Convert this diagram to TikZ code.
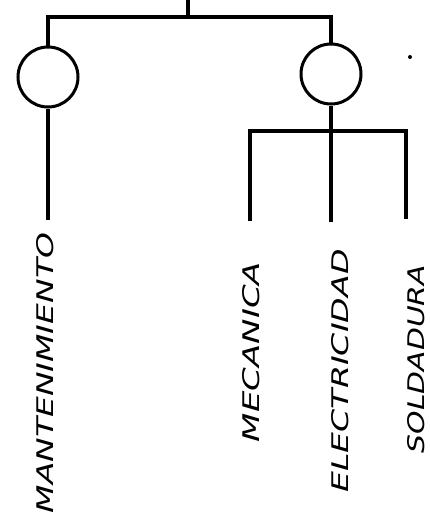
\documentclass[tikz,border=0pt]{standalone}
\usepackage{fontspec}
\setmainfont{DejaVu Sans}
\usepackage{graphicx}
\begin{document}
\begin{tikzpicture}[x=1pt,y=-1pt,
  ln/.style={line width=3.2pt},
  circ/.style={circle,draw,line width=3pt,minimum size=60pt,inner sep=0pt},
  lbl/.style={rotate=90,inner sep=0pt,anchor=center}]
\useasboundingbox (0,0) rectangle (430,514);
\newcommand{\lab}[3]{\resizebox{#1pt}{#2pt}{\itshape #3}}
\coordinate (top) at (188,0);
\coordinate (j1) at (188,17);
\node[circ] (L) at (48,77) {};
\node[circ] (R) at (331,74) {};
\coordinate (eL) at (48,220);
\coordinate (j2) at (331,131);
\coordinate (e1) at (250,221);
\coordinate (e2) at (331,222);
\coordinate (e3) at (406,219);
\draw[ln] (top) -- (j1);
\draw[ln] (j1) -| (L.north);
\draw[ln] (j1) -| (R.north);
\draw[ln] (L.south) -- (eL);
\draw[ln] (R.south) -- (j2);
\draw[ln] (j2) -| (e1);
\draw[ln] (j2) -| (e3);
\draw[ln] (j2) -- (e2);
\fill (410,57) circle (2pt);
\node[lbl] (t1) at (45,373) {\lab{280}{17}{MANTENIMIENTO}};
\node[lbl] (t2) at (251,352) {\lab{180}{17}{MECANICA}};
\node[lbl] (t3) at (340,371) {\lab{243}{17}{ELECTRICIDAD}};
\node[lbl] (t4) at (416,359) {\lab{188}{17}{SOLDADURA}};
\end{tikzpicture}
\end{document}
